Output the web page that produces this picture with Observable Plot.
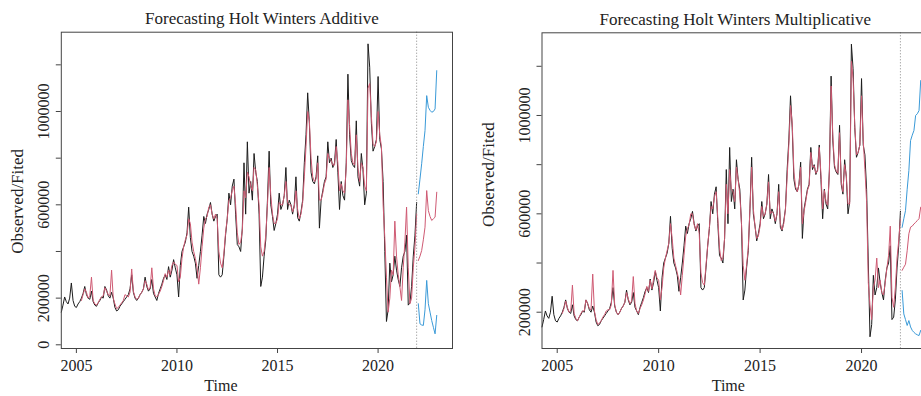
<!DOCTYPE html>
<html><head><meta charset="utf-8">
<script src="https://cdn.jsdelivr.net/npm/d3@7"></script>
<script src="https://cdn.jsdelivr.net/npm/@observablehq/plot@0.6"></script>
<style>
html,body{margin:0;padding:0;background:#fff;overflow:hidden;}
body{width:921px;height:396px;position:relative;}
#left{position:absolute;left:0;top:0;width:460px;height:396px;}
#right{position:absolute;left:460px;top:0;width:480px;height:396px;}
svg{max-width:none !important;}
</style></head><body>
<div id="left"></div><div id="right"></div>
<script>
// ---- data (thousands) ----
// Observed series, monthly from Apr 2004 to Dec 2021
const observed = [
  140,170,205,185,175,200,265,190,165,
  160,175,185,200,220,250,215,200,195,230,185,170,
  165,180,190,205,200,250,235,210,200,225,200,160,
  145,150,165,175,185,195,205,215,240,300,225,200,
  190,200,215,225,240,290,250,230,240,280,220,205,
  190,220,240,260,285,300,280,335,290,320,365,330,
  300,205,340,400,420,440,480,590,460,400,380,350,
  285,340,400,470,550,520,560,580,610,560,530,550,
  560,300,290,300,380,470,540,650,600,680,710,560,
  430,420,400,500,780,560,870,650,700,620,820,740,
  700,560,250,290,380,450,620,830,600,550,490,520,
  560,650,580,600,640,760,580,620,600,560,600,720,
  545,530,570,620,780,900,1080,950,740,700,690,720,
  810,500,620,660,700,720,870,780,800,760,780,880,
  740,580,700,640,620,780,1160,900,790,770,760,960,
  720,680,820,750,600,650,1290,1190,950,830,850,880,
  1150,880,840,700,400,100,150,350,270,300,380,320,
  280,250,330,380,400,470,170,180,250,380,470,610
];
// Fitted values (additive), monthly from Apr 2005 to Dec 2021
const fittedAdditive = [
  190,215,240,225,200,210,290,190,175,
  170,180,195,205,210,245,230,215,210,320,200,175,
  155,160,170,180,190,215,210,205,225,325,230,205,
  195,200,215,225,240,275,260,235,245,330,240,210,
  205,215,230,250,275,305,290,320,300,340,355,345,
  340,270,290,370,420,450,470,540,520,440,400,370,
  330,260,330,420,500,540,550,590,600,560,540,560,
  540,400,350,330,390,480,540,620,630,660,680,600,
  480,430,440,490,660,630,740,720,680,660,760,750,
  680,600,420,380,400,470,600,760,640,560,520,520,
  540,610,600,600,640,700,610,600,600,570,590,660,
  580,540,560,610,720,850,1000,960,800,720,700,710,
  780,620,620,650,690,710,820,800,790,770,770,850,
  780,660,690,660,650,760,1050,940,820,780,770,900,
  760,700,780,760,680,660,1100,1120,980,860,850,870,
  1000,900,850,600,460,290,140,200,320,300,530,380,
  300,250,190,330,440,590,330,176,200,330,420,560
];
// Fitted values (multiplicative), monthly from Apr 2005 to Dec 2021
const fittedMultiplicative = [
  195,215,245,220,200,205,310,195,175,
  165,180,195,205,205,250,235,215,210,355,205,170,
  150,155,165,180,190,205,210,210,230,370,230,200,
  190,200,215,225,240,280,255,235,245,345,235,205,
  195,215,230,250,275,305,285,330,295,335,370,340,
  330,250,300,380,420,450,480,560,500,420,390,360,
  330,270,350,430,510,540,555,600,600,555,535,560,
  520,360,320,310,390,470,545,630,620,670,690,580,
  460,410,420,500,720,600,780,700,690,650,790,740,
  680,560,390,330,390,460,620,790,620,550,500,510,
  550,630,590,600,640,730,600,610,600,570,600,690,
  560,535,560,620,750,880,1040,970,770,710,690,720,
  790,560,610,650,695,715,850,790,795,765,775,870,
  760,620,695,650,635,770,1120,920,800,775,765,930,
  730,690,800,755,640,640,1220,1150,960,840,850,880,
  1080,900,780,650,320,230,170,300,330,420,300,330,
  280,270,320,380,430,550,260,220,300,420,490,580
];
// Forecasts Jan-Dec 2022
const addForecast = [361,380,404,450,504,661,575,550,533,540,547,654];
const addUpper    = [647,710,776,850,918,1068,1018,1005,997,1000,1011,1175];
const addLower    = [176,90,85,83,150,276,176,140,104,75,47,126];
const multForecast = [370,383,395,450,519,546,550,559,565,573,580,627];
const multUpper    = [545,580,613,700,776,898,920,939,1000,1007,1020,1142];
const multLower    = [288,193,170,146,166,140,126,118,112,108,105,126];

const xTicks = [2005, 2010, 2015, 2020];
const yTicksLeft = [0, 200000, 400000, 600000, 800000, 1000000, 1200000];
const yLabelsLeft = [0, 200000, 600000, 1000000];
const yTicksRight = [200000, 400000, 600000, 800000, 1000000, 1200000];
const yLabelsRight = [200000, 600000, 1000000];
const forecastStart = 2021 + 11/12;

// ---- build tables ----
function monthly(values, year, month) {
  return values.map((v, i) => ({t: year + (month - 1 + i) / 12, v: v * 1000}));
}
const obs = monthly(observed, 2004, 4);

const FONT = "'Liberation Serif', 'Times New Roman', Times, serif";
const BLACK = "#1c1c1c", RED = "#cf5a73", BLUE = "#3a9ad8", FRAME = "#444", TEXT = "#222";

function panel(o) {
  return Plot.plot({
    width: o.width, height: 396,
    marginLeft: o.marginLeft, marginRight: o.marginRight, marginTop: o.marginTop, marginBottom: 48,
    x: {domain: [2004.25, 2023.7], label: null},
    y: {domain: o.yDomain, label: null},
    style: {fontFamily: FONT, background: "white", color: TEXT},
    marks: [
      Plot.line(obs, {x: "t", y: "v", stroke: BLACK, strokeWidth: 1}),
      Plot.line(monthly(o.fitted, 2005, 4), {x: "t", y: "v", stroke: RED, strokeWidth: 1}),
      Plot.line(monthly(o.fc, 2022, 1), {x: "t", y: "v", stroke: RED, strokeWidth: 1}),
      Plot.line(monthly(o.up, 2022, 1), {x: "t", y: "v", stroke: BLUE, strokeWidth: 1}),
      Plot.line(monthly(o.lo, 2022, 1), {x: "t", y: "v", stroke: BLUE, strokeWidth: 1}),
      Plot.ruleX([forecastStart], {stroke: "#888", strokeDasharray: "1,2", strokeWidth: 1}),
      Plot.frame({stroke: FRAME}),
      Plot.axisX(xTicks, {tickSize: 5, tickPadding: 6, fontSize: 16, stroke: FRAME, fill: TEXT, tickFormat: d => String(d), label: null}),
      Plot.axisY(o.yTicks, {tickSize: 5, tickFormat: () => "", stroke: FRAME, label: null}),
      Plot.text(o.yLabels, {y: d => d, text: d => String(d), frameAnchor: "left", dx: -17.5, rotate: -90,
        fontSize: 16, fill: TEXT, textAnchor: "middle", lineAnchor: "middle"}),
      Plot.text([o.title], {frameAnchor: "top", dx: o.titleDx, dy: -13.5, fontSize: 17, fill: TEXT, lineAnchor: "middle"}),
      Plot.text(["Observed/Fited"], {frameAnchor: "left", dx: o.ylabDx, dy: o.ylabDy, rotate: -90,
        fontSize: 17, fill: TEXT, textAnchor: "middle", lineAnchor: "middle"}),
      Plot.text(["Time"], {frameAnchor: "bottom", dx: o.timeDx, dy: 37.5, fontSize: 16, fill: TEXT, lineAnchor: "middle"})
    ]
  });
}

document.getElementById("left").append(panel({
  width: 460, marginLeft: 60.8, marginRight: 8, marginTop: 31.7,
  yDomain: [-15860, 1339900], yTicks: yTicksLeft, yLabels: yLabelsLeft,
  fitted: fittedAdditive, fc: addForecast, up: addUpper, lo: addLower,
  title: "Forecasting Holt Winters Additive", titleDx: 5, ylabDx: -44, ylabDy: 11, timeDx: -36
}));
document.getElementById("right").append(panel({
  width: 480, marginLeft: 81.5, marginRight: 3.9, marginTop: 32.3,
  yDomain: [52400, 1336200], yTicks: yTicksRight, yLabels: yLabelsRight,
  fitted: fittedMultiplicative, fc: multForecast, up: multUpper, lo: multLower,
  title: "Forecasting Holt Winters Multiplicative", titleDx: -4, ylabDx: -53, ylabDy: -16, timeDx: -11
}));
</script>
</body></html>
